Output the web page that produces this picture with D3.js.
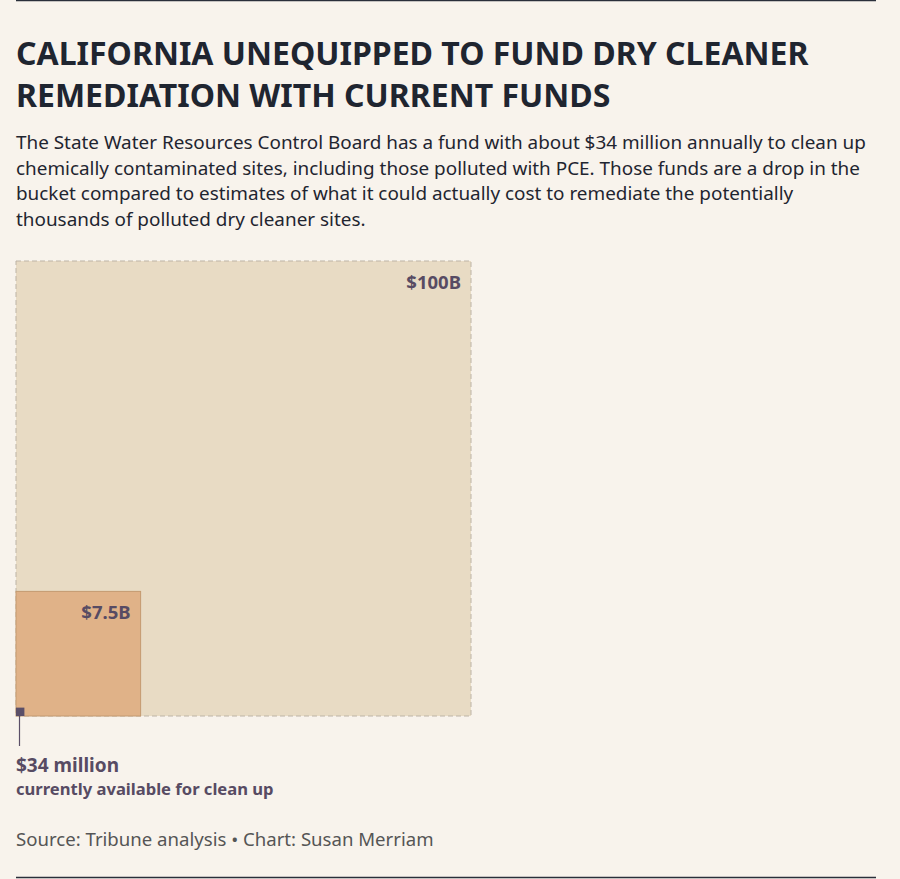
<!DOCTYPE html>
<html>
<head>
<meta charset="utf-8">
<script src="https://cdn.jsdelivr.net/npm/d3@7"></script>
<style>
  html, body { margin: 0; padding: 0; background: #f8f3ec; }
  svg { display: block; font-family: "Noto Sans", sans-serif; }
</style>
</head>
<body>
<script>
// amounts in billions of dollars
const labels = ["$100B", "$7.5B", "$34 million"]
const amounts = [100, 7.5, 0.034]
const fills = ["#e8dbc4", "#e0b288", "#5b4f68"]

const titleLines = ["CALIFORNIA UNEQUIPPED TO FUND DRY CLEANER", "REMEDIATION WITH CURRENT FUNDS"]
const subLines = [
  "The State Water Resources Control Board has a fund with about $34 million annually to clean up",
  "chemically contaminated sites, including those polluted with PCE. Those funds are a drop in the",
  "bucket compared to estimates of what it could actually cost to remediate the potentially",
  "thousands of polluted dry cleaner sites."
]
const note = "currently available for clean up"
const source = "Source: Tribune analysis \u2022 Chart: Susan Merriam"

const width = 900, height = 879
const left = 16, right = 876
const chartBottom = 716

const svg = d3.select("body").append("svg")
  .attr("width", width)
  .attr("height", height)

svg.append("rect").attr("width", width).attr("height", height).attr("fill", "#f8f3ec")

// top and bottom rules
svg.append("line").attr("x1", left).attr("x2", right).attr("y1", 0.5).attr("y2", 0.5)
  .attr("stroke", "#2a2f3a").attr("stroke-width", 1.5)
svg.append("line").attr("x1", left).attr("x2", right).attr("y1", 877.5).attr("y2", 877.5)
  .attr("stroke", "#2a2f3a").attr("stroke-width", 1.5)

svg.append("g").selectAll("text")
  .data(titleLines)
  .join("text")
    .attr("x", left)
    .attr("y", (d, i) => 65 + i * 42)
    .attr("fill", "#1f2530")
    .style("font-size", "32px")
    .style("font-weight", "bold")
    .text(d => d)

svg.append("g").selectAll("text")
  .data(subLines)
  .join("text")
    .attr("x", left)
    .attr("y", (d, i) => 149 + i * 25.7)
    .attr("fill", "#1f2530")
    .style("font-size", "18.9px")
    .text(d => d)

// side of each square ~ sqrt(amount) so area tracks dollars
const side = d3.scaleSqrt()
  .domain([0, d3.max(amounts)])
  .range([0, 455])

const squares = amounts.map((v, i) => ({ label: labels[i], value: v, fill: fills[i], s: side(v) }))

const g = svg.append("g")

g.selectAll("rect")
  .data(squares)
  .join("rect")
    .attr("x", left)
    .attr("y", d => chartBottom - d.s)
    .attr("width", d => d.s)
    .attr("height", d => d.s)
    .attr("fill", d => d.fill)
    .attr("stroke", (d, i) => i === 0 ? "#bdb4a6" : i === 1 ? "#c49a70" : "none")
    .attr("stroke-width", 1)
    .attr("stroke-dasharray", (d, i) => i === 0 ? "5,3" : null)

// value labels in the top right corner of the two big squares
g.selectAll("text.val")
  .data(squares.slice(0, 2))
  .join("text")
    .attr("class", "val")
    .attr("x", d => left + d.s - 10)
    .attr("y", d => chartBottom - d.s + 28)
    .attr("text-anchor", "end")
    .attr("fill", "#574b63")
    .style("font-size", "18.5px")
    .style("font-weight", "bold")
    .text(d => d.label)

// leader for the tiny square
const tiny = squares[2]
g.append("line")
  .attr("x1", left + 3.5).attr("x2", left + 3.5)
  .attr("y1", chartBottom).attr("y2", chartBottom + 30)
  .attr("stroke", "#5b4f68").attr("stroke-width", 1.2)

g.append("text")
  .attr("x", left)
  .attr("y", 772)
  .attr("fill", "#574b63")
  .style("font-size", "19px")
  .style("font-weight", "bold")
  .text(tiny.label)

g.append("text")
  .attr("x", left)
  .attr("y", 795)
  .attr("fill", "#574b63")
  .style("font-size", "16.6px")
  .style("font-weight", "bold")
  .text(note)

svg.append("text")
  .attr("x", left)
  .attr("y", 846)
  .attr("fill", "#555")
  .style("font-size", "18.6px")
  .text(source)
</script>
</body>
</html>
